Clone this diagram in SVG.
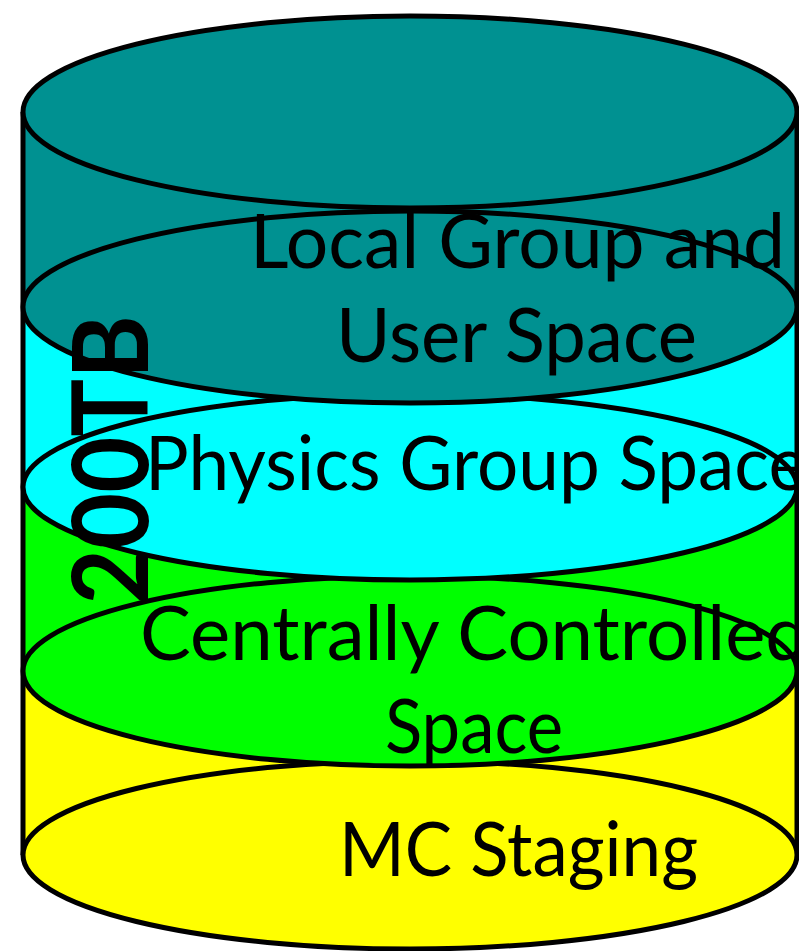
<svg xmlns="http://www.w3.org/2000/svg" width="799" height="951" viewBox="0 0 799 951">
<style>
  .edge { stroke: #000; stroke-width: 5; }
  .side { stroke: #000; stroke-width: 5; fill: none; }
  .body { stroke: none; }
  .lbl { font-family: Lato, "Open Sans", "Liberation Sans", sans-serif; font-size: 76px; fill: #000; }
  .big { font-family: Lato, "Open Sans", "Liberation Sans", sans-serif; font-size: 106px; font-weight: bold; fill: #000; }
  .teal { fill: #009191; }
  .cyan { fill: #00ffff; }
  .green { fill: #00ff00; }
  .yellow { fill: #ffff00; }
</style>
<rect width="799" height="951" fill="#ffffff"/>
<g id="mc-staging">
  <rect class="body yellow" x="23" y="671" width="774" height="184"/>
  <path class="side" d="M23,671 V855 M797,671 V855"/>
  <ellipse class="edge yellow" cx="410" cy="855" rx="387" ry="94"/>
</g>
<g id="centrally-controlled">
  <rect class="body green" x="23" y="487" width="774" height="184"/>
  <path class="side" d="M23,487 V671 M797,487 V671"/>
  <ellipse class="edge green" cx="410" cy="671" rx="387" ry="95"/>
</g>
<g id="physics-group">
  <rect class="body cyan" x="23" y="307" width="774" height="180"/>
  <path class="side" d="M23,307 V487 M797,307 V487"/>
  <ellipse class="edge cyan" cx="410" cy="487" rx="387" ry="93"/>
</g>
<g id="local-group">
  <rect class="body teal" x="23" y="112" width="774" height="195"/>
  <path class="side" d="M23,112 V307 M797,112 V307"/>
  <ellipse class="edge teal" cx="410" cy="307" rx="387" ry="96"/>
  <ellipse class="edge teal" cx="410" cy="112" rx="387" ry="96"/>
</g>
<g id="labels">
  <text class="lbl" x="250" y="268" textLength="535" lengthAdjust="spacingAndGlyphs">Local Group and</text>
  <text class="lbl" x="336" y="362" textLength="361" lengthAdjust="spacingAndGlyphs">User Space</text>
  <text class="lbl" x="145" y="490" textLength="662" lengthAdjust="spacingAndGlyphs">Physics Group Space</text>
  <text class="lbl" x="140" y="660" textLength="668" lengthAdjust="spacingAndGlyphs">Centrally Controlled</text>
  <text class="lbl" x="385" y="753" textLength="178" lengthAdjust="spacingAndGlyphs">Space</text>
  <text class="lbl" x="339" y="876" textLength="359" lengthAdjust="spacingAndGlyphs">MC Staging</text>
  <text class="big" transform="translate(148,605) rotate(-90)" x="0" y="0" textLength="290" lengthAdjust="spacingAndGlyphs">200TB</text>
</g>
</svg>
